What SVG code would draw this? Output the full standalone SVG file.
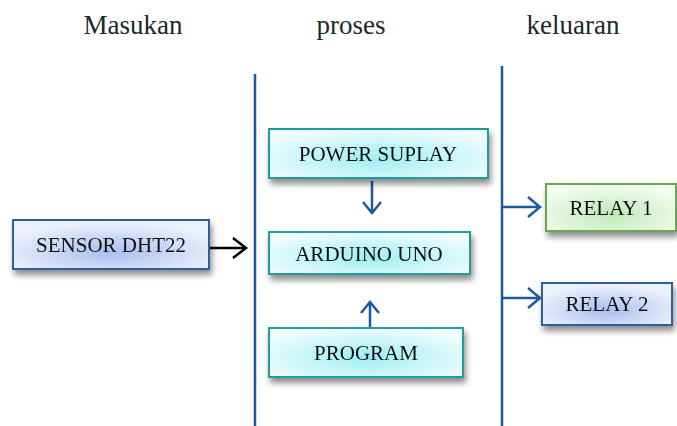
<svg xmlns="http://www.w3.org/2000/svg" width="677" height="426" viewBox="0 0 677 426">
<style>
text{font-family:'Liberation Serif','Times New Roman',Times,serif}
.hdr{font-size:27px;fill:#1a2a2a;text-anchor:middle}
.lbl{font-size:21px;fill:#111;text-anchor:middle}
.cyan{fill:url(#gCyan);stroke:#1b9e9e;stroke-width:2}
.blue{fill:url(#gBlue);stroke:#2f5f9e;stroke-width:2}
.green{fill:url(#gGreen);stroke:#6aa84f;stroke-width:2}
.div{stroke:#1f5aa0;stroke-width:2.5;fill:none}
.con{stroke:#1f5aa0;stroke-width:2.5;fill:none}
.conk{stroke:#000;stroke-width:2.5;fill:none}
</style>
<defs>
<radialGradient id="gCyan" cx="0.5" cy="0.6" r="0.6">
<stop offset="0" stop-color="#9eeef3"/>
<stop offset="1" stop-color="#eefcfd"/>
</radialGradient>
<radialGradient id="gBlue" cx="0.5" cy="0.65" r="0.6">
<stop offset="0" stop-color="#a9bfee"/>
<stop offset="1" stop-color="#edf1fc"/>
</radialGradient>
<radialGradient id="gGreen" cx="0.5" cy="0.65" r="0.6">
<stop offset="0" stop-color="#bfe9b5"/>
<stop offset="1" stop-color="#f1fbef"/>
</radialGradient>
<filter id="sh" x="-10%" y="-20%" width="125%" height="160%">
<feGaussianBlur in="SourceAlpha" stdDeviation="3"/>
<feOffset dx="2" dy="5" result="b"/>
<feComponentTransfer><feFuncA type="linear" slope="0.45"/></feComponentTransfer>
<feMerge><feMergeNode/><feMergeNode in="SourceGraphic"/></feMerge>
</filter>
</defs>
<rect width="677" height="426" fill="#fff"/>
<text class="hdr" x="133" y="34" font-family="Liberation Serif, serif">Masukan</text>
<text class="hdr" x="351" y="34" font-family="Liberation Serif, serif">proses</text>
<text class="hdr" x="573" y="34" font-family="Liberation Serif, serif">keluaran</text>
<g id="dividers">
<line class="div" x1="255" y1="74" x2="255" y2="426"/>
<line class="div" x1="502" y1="66" x2="502" y2="426"/>
</g>
<g id="connectors">
<path class="conk" d="M209 248 H246 M233 238 L246 248 L233 258"/>
<path class="con" d="M372 181 V213 M363 202 L372 213 L381 202"/>
<path class="con" d="M370 330 V302 M361 313 L370 302 L379 313"/>
<path class="con" d="M502 207 H540 M528 197 L540 207 L528 217"/>
<path class="con" d="M502 298 H540 M528 288 L540 298 L528 308"/>
</g>
<g id="sensor" filter="url(#sh)">
<rect class="blue" x="13" y="220" width="196" height="49"/>
<text class="lbl" x="111" y="252" font-family="Liberation Serif, serif">SENSOR DHT22</text>
</g>
<g id="power" filter="url(#sh)">
<rect class="cyan" x="269" y="129" width="219" height="49"/>
<text class="lbl" x="378" y="161" font-family="Liberation Serif, serif">POWER SUPLAY</text>
</g>
<g id="arduino" filter="url(#sh)">
<rect class="cyan" x="269" y="232" width="201" height="42"/>
<text class="lbl" x="369" y="261" font-family="Liberation Serif, serif">ARDUINO UNO</text>
</g>
<g id="program" filter="url(#sh)">
<rect class="cyan" x="269" y="328" width="194" height="49"/>
<text class="lbl" x="366" y="360" font-family="Liberation Serif, serif">PROGRAM</text>
</g>
<g id="relay1" filter="url(#sh)">
<rect class="green" x="546" y="184" width="130" height="47"/>
<text class="lbl" x="611" y="215" font-family="Liberation Serif, serif">RELAY 1</text>
</g>
<g id="relay2" filter="url(#sh)">
<rect class="blue" x="542" y="283" width="130" height="42"/>
<text class="lbl" x="607" y="311" font-family="Liberation Serif, serif">RELAY 2</text>
</g>
</svg>
